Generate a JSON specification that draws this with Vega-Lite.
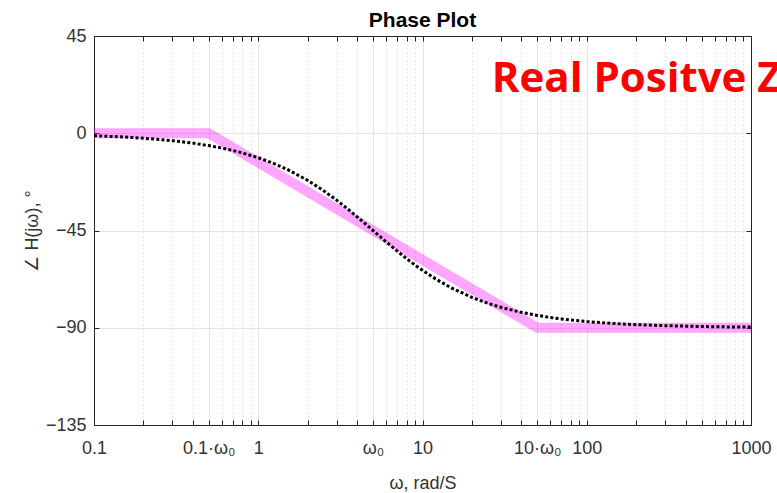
{
  "$schema": "https://vega.github.io/schema/vega-lite/v6.json",
  "width": 657,
  "height": 389,
  "autosize": {"type": "none"},
  "padding": {"left": 94, "top": 36, "right": 26, "bottom": 68},
  "background": "white",
  "title": {"text": "Phase Plot", "fontSize": 21, "font": "Liberation Sans", "fontWeight": "bold", "color": "#000000", "offset": -4, "anchor": "middle"},
  "config": {
    "view": {"stroke": null},
    "axis": {"labelFont": "Liberation Sans", "titleFont": "Liberation Sans", "labelFontSize": 18, "titleFontSize": 18, "labelColor": "#333333", "titleColor": "#333333", "domainColor": "#262626", "tickColor": "#262626", "titleFontWeight": "normal"}
  },
  "datasets": {
    "note": [
      {"label": "Real Positve Zero"}
    ],
    "band": [
      {"w": 0.1, "p": 0},
      {"w": 0.5, "p": 0},
      {"w": 50, "p": -90},
      {"w": 1000, "p": -90}
    ],
    "exact": [
      {"w": 0.1, "p": -1.15},
      {"w": 0.15, "p": -1.72},
      {"w": 0.2, "p": -2.29},
      {"w": 0.3, "p": -3.43},
      {"w": 0.4, "p": -4.57},
      {"w": 0.5, "p": -5.71},
      {"w": 0.6, "p": -6.84},
      {"w": 0.7, "p": -7.97},
      {"w": 0.8, "p": -9.09},
      {"w": 1, "p": -11.31},
      {"w": 1.2, "p": -13.5},
      {"w": 1.5, "p": -16.7},
      {"w": 2, "p": -21.8},
      {"w": 2.5, "p": -26.57},
      {"w": 3, "p": -30.96},
      {"w": 3.5, "p": -34.99},
      {"w": 4, "p": -38.66},
      {"w": 4.5, "p": -41.99},
      {"w": 5, "p": -45},
      {"w": 5.5, "p": -47.73},
      {"w": 6, "p": -50.19},
      {"w": 7, "p": -54.46},
      {"w": 8, "p": -57.99},
      {"w": 9, "p": -60.95},
      {"w": 10, "p": -63.43},
      {"w": 12, "p": -67.38},
      {"w": 15, "p": -71.57},
      {"w": 20, "p": -75.96},
      {"w": 25, "p": -78.69},
      {"w": 30, "p": -80.54},
      {"w": 40, "p": -82.87},
      {"w": 50, "p": -84.29},
      {"w": 60, "p": -85.24},
      {"w": 70, "p": -85.91},
      {"w": 80, "p": -86.42},
      {"w": 100, "p": -87.14},
      {"w": 150, "p": -88.09},
      {"w": 200, "p": -88.57},
      {"w": 300, "p": -89.05},
      {"w": 500, "p": -89.43},
      {"w": 700, "p": -89.59},
      {"w": 1000, "p": -89.71}
    ]
  },
  "layer": [
    {
      "data": {"name": "note"},
      "mark": {"type": "text", "font": "Open Sans", "fontWeight": "bold", "fontSize": 42, "color": "#ff0000", "align": "left", "baseline": "alphabetic"},
      "encoding": {
        "text": {"field": "label", "type": "nominal"},
        "x": {"datum": 26.4, "type": "quantitative", "scale": {"type": "log", "domain": [0.1, 1000], "nice": false},
          "axis": {"orient": "bottom", "values": [0.2, 0.3, 0.4, 0.6, 0.7, 0.8, 0.9, 2, 3, 4, 6, 7, 8, 9, 20, 30, 40, 60, 70, 80, 90, 200, 300, 400, 500, 600, 700, 800, 900], "labels": false, "domain": false, "tickSize": -5, "grid": true, "gridDash": [1, 3], "gridColor": "#cccccc", "title": null}},
        "y": {"datum": 19, "type": "quantitative", "scale": {"domain": [-135, 45], "nice": false}, "axis": null}
      }
    },
    {
      "data": {"name": "band"},
      "mark": {"type": "line", "strokeWidth": 10, "color": "#ff00ff", "opacity": 0.35, "strokeJoin": "miter", "strokeCap": "butt"},
      "encoding": {
        "x": {"field": "w", "type": "quantitative", "scale": {"type": "log", "domain": [0.1, 1000], "nice": false},
          "axis": {"orient": "bottom", "values": [0.1, 0.5, 1, 5, 10, 50, 100, 1000],
            "labelExpr": "datum.value == 0.5 ? '0.1·ω₀' : datum.value == 5 ? 'ω₀' : datum.value == 50 ? '10·ω₀' : datum.value == 0.1 ? '0.1' : datum.value == 1 ? '1' : datum.value == 10 ? '10' : datum.value == 100 ? '100' : '1000'",
            "labelFont": "Liberation Sans", "labelFontSize": 18, "titleFont": "Liberation Sans", "titleFontSize": 18,
            "tickSize": -5, "labelPadding": 19, "grid": true, "gridColor": "#e4e4e4", "labelFlush": false, "labelOverlap": false,
            "title": "ω, rad/S", "titlePadding": 17}},
        "y": {"field": "p", "type": "quantitative", "scale": {"domain": [-135, 45], "nice": false},
          "axis": {"orient": "left", "values": [-135, -90, -45, 0, 45], "labelFont": "Liberation Sans", "labelFontSize": 18, "titleFont": "Liberation Sans", "titleFontSize": 18,
            "tickSize": -5, "labelPadding": 13, "grid": true, "gridColor": "#e4e4e4", "title": "∠ H(jω), °", "titlePadding": 4}}
      }
    },
    {
      "data": {"name": "exact"},
      "mark": {"type": "line", "strokeWidth": 3, "color": "#000000", "strokeDash": [3, 2.2]},
      "encoding": {
        "x": {"field": "w", "type": "quantitative", "scale": {"type": "log", "domain": [0.1, 1000], "nice": false},
          "axis": {"orient": "top", "values": [0.1, 0.2, 0.3, 0.4, 0.5, 0.6, 0.7, 0.8, 0.9, 1, 2, 3, 4, 5, 6, 7, 8, 9, 10, 20, 30, 40, 50, 60, 70, 80, 90, 100, 200, 300, 400, 500, 600, 700, 800, 900, 1000], "labels": false, "tickSize": -5, "grid": false, "title": null}},
        "y": {"field": "p", "type": "quantitative", "scale": {"domain": [-135, 45], "nice": false},
          "axis": {"orient": "right", "values": [-135, -90, -45, 0, 45], "labels": false, "tickSize": -5, "grid": false, "title": null}}
      }
    }
  ],
  "resolve": {"scale": {"x": "independent", "y": "independent"}, "axis": {"x": "independent", "y": "independent"}}
}
